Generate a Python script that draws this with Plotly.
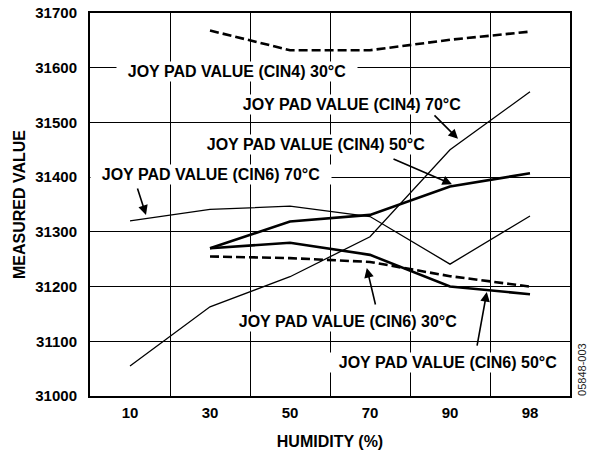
import plotly.graph_objects as go

# Humidity categories (evenly spaced on the axis)
humidity = ["10", "30", "50", "70", "90", "98"]

# Measured joy-pad values per sensor input and temperature
cin4_30c = [31668, 31632, 31632, 31651, 31666]          # from 30 %
cin4_50c = [31270, 31319, 31331, 31383, 31407]          # from 30 %
cin4_70c = [31055, 31163, 31218, 31291, 31450, 31556]   # from 10 %
cin6_30c = [31255, 31252, 31245, 31219, 31200]          # from 30 %
cin6_50c = [31270, 31280, 31258, 31200, 31186]          # from 30 %
cin6_70c = [31320, 31341, 31347, 31328, 31241, 31329]   # from 10 %

FONT = "Arial, Liberation Sans, sans-serif"
BLACK = "#000000"

fig = go.Figure()

def add_series(x, y, width, dash="solid"):
    fig.add_trace(go.Scatter(
        x=x, y=y, mode="lines",
        line=dict(color=BLACK, width=width, dash=dash),
        showlegend=False, hoverinfo="skip",
    ))

add_series(humidity[1:], cin4_30c, 2.6, "9px,4px")
add_series(humidity[1:], cin4_50c, 2.6)
add_series(humidity, cin4_70c, 1.3)
add_series(humidity[1:], cin6_30c, 2.6, "9px,4px")
add_series(humidity[1:], cin6_50c, 2.6)
add_series(humidity, cin6_70c, 1.3)

label_font = dict(family=FONT, size=16, color=BLACK, weight="bold")

# Curve labels (x as category index, y in data units), white boxes hide the grid
labels = [
    ("JOY PAD VALUE (CIN4) 30°C", 1.34, 31594),
    ("JOY PAD VALUE (CIN4) 70°C", 2.78, 31532),
    ("JOY PAD VALUE (CIN4) 50°C", 2.33, 31460),
    ("JOY PAD VALUE (CIN6) 70°C", 1.01, 31404),
    ("JOY PAD VALUE (CIN6) 30°C", 2.73, 31137),
    ("JOY PAD VALUE (CIN6) 50°C", 3.98, 31062),
]
for text, x, y in labels:
    fig.add_annotation(
        x=x, y=y, xref="x", yref="y", text=text, showarrow=False,
        font=label_font, bgcolor="white", width=238, borderpad=1,
    )

# Pointer arrows: tip in data units, tail as pixel offset
arrows = [
    (4.10, 31470, -25, -25),
    (4.025, 31387, -60, -26),
    (0.20, 31331, -9, -28),
    (2.96, 31234, 9, 38),
    (4.46, 31190, -10, 55),
]
for x, y, ax, ay in arrows:
    fig.add_annotation(
        x=x, y=y, xref="x", yref="y", ax=ax, ay=ay, text="",
        showarrow=True, arrowhead=2, arrowsize=1.2, arrowwidth=1.6,
        arrowcolor=BLACK, standoff=0,
    )

fig.add_annotation(
    x=1.025, y=0.068, xref="paper", yref="paper", text="05848-003",
    showarrow=False, textangle=-90, xanchor="center", yanchor="middle",
    font=dict(family=FONT, size=11, color="#222222"),
)

title_font = dict(family=FONT, size=16, color=BLACK, weight="bold")
axis_common = dict(
    showline=True, mirror=True, linecolor=BLACK, linewidth=2,
    showgrid=True, gridcolor=BLACK, gridwidth=1, zeroline=False,
    ticks="", automargin=False,
    tickfont=dict(family=FONT, size=15, color=BLACK, weight="bold"),
)

fig.update_xaxes(
    type="category", categoryorder="array", categoryarray=humidity,
    tickson="boundaries", range=[-0.5, 5.5],
    title=dict(text="HUMIDITY (%)", standoff=17, font=title_font),
    ticklabelstandoff=2,
    **axis_common,
)
fig.update_yaxes(
    range=[31000, 31700], dtick=100, tick0=31000,
    tickformat="d",
    title=dict(text="MEASURED VALUE", standoff=6, font=title_font),
    ticklabelstandoff=8,
    **axis_common,
)

fig.update_layout(
    width=590, height=450,
    margin=dict(l=90, r=20, t=13, b=54),
    paper_bgcolor="white", plot_bgcolor="white",
    font=dict(family=FONT, color=BLACK),
)

fig.write_html("out.html")
